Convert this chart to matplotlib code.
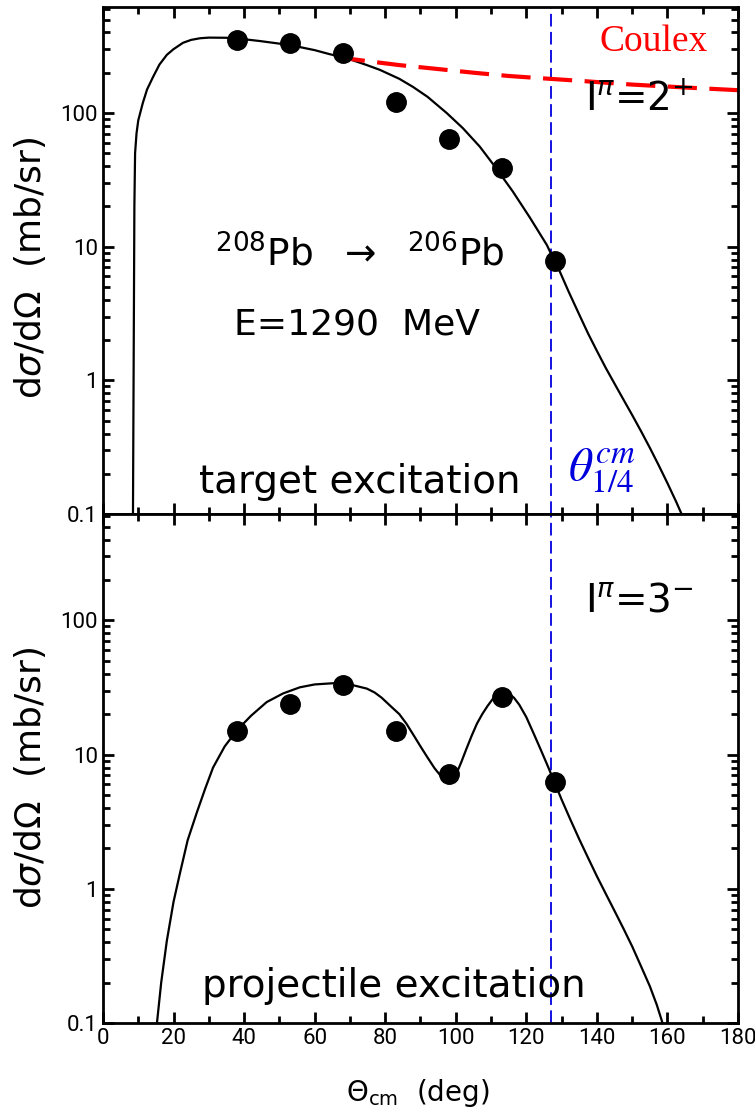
import matplotlib
matplotlib.use("Agg")
import matplotlib.pyplot as plt
from matplotlib.ticker import FixedLocator, FixedFormatter, LogLocator, MultipleLocator

# measured points (angles in deg, cross sections in mb/sr)
theta_exp = [38, 53, 68, 83, 98, 113, 128]
sig_2plus = [352, 333, 281, 121, 64, 39, 7.8]
sig_3minus = [15, 24, 33, 15, 7.2, 27, 6.2]

# calculated curve, target excitation 2+
theta_calc_2p = [8.5, 8.9, 9.1, 9.5, 10, 11.3, 12.5, 14.2, 16, 18.1, 20, 22.7, 25,
                 27.5, 30, 35, 40, 44.5, 50, 55.8, 60, 64.3, 67, 70, 74.8, 78.5,
                 84, 87.8, 92, 97.4, 102, 106.8, 111, 116.1, 121, 125.8, 127.5,
                 129.5, 132, 135, 137.5, 140, 142.5, 145, 147.5, 150, 152.5,
                 155, 157.5, 160, 162.5, 164]
sig_calc_2p = [0.1, 20, 50, 70, 88, 119, 150, 186, 230, 272, 300, 335, 352,
               362, 366, 365, 356, 345, 330, 311, 295, 275, 265, 252, 228, 210,
               180, 157, 132, 100, 77, 56, 40, 26, 16.5, 10.3, 8.3,
               6.5, 4.6, 3.1, 2.24, 1.66, 1.24, 0.944, 0.72, 0.55, 0.417,
               0.313, 0.232, 0.17, 0.123, 0.1]

# Coulomb excitation only
theta_coulex = [66, 75, 84, 95, 105, 115, 124, 135, 150, 165, 180]
sig_coulex = [262, 244, 228, 213, 200, 189, 182, 174, 163, 155, 148]

# calculated curve, projectile excitation 3-
theta_calc_3m = [15.3, 16.5, 18.1, 20, 21.8, 24, 26.6, 29, 31.2, 34.5, 38, 42,
                 46.4, 51, 55.8, 60, 65.2, 70, 74.8, 77, 79, 81.5, 84, 86, 88,
                 90, 92, 94, 96, 98, 99, 100, 101.5, 103, 104.5, 106, 107.5,
                 109, 110.5, 112, 113.5, 115, 116.5, 118, 120, 122, 124, 126,
                 128, 130, 132.5, 135, 137.5, 140, 142.5, 145, 147.5, 150,
                 152.5, 155, 157, 158.6]
sig_calc_3m = [0.1, 0.2, 0.41, 0.8, 1.3, 2.3, 3.7, 5.6, 8.0, 11.5, 15.2, 19.5,
               24.6, 28.5, 31.7, 33.3, 34, 33.3, 31, 29, 26.5, 23, 20, 17, 14,
               11.5, 9.5, 7.9, 6.8, 6.1, 6.3, 7.0, 8.7, 11, 13.8, 17, 20,
               23, 26, 28, 29, 28.5, 26.5, 23.5, 19, 14.5, 11, 8.3,
               6.2, 4.62, 3.27, 2.34, 1.70, 1.24, 0.92, 0.684, 0.507, 0.372,
               0.265, 0.188, 0.136, 0.1]

theta_quarter = 127

fig = plt.figure(figsize=(7.55, 11.14), dpi=100)
ax1 = fig.add_axes([0.1364, 0.5386, 0.8411, 0.4551])
ax2 = fig.add_axes([0.1364, 0.0817, 0.8411, 0.4569], sharex=ax1)

for ax in (ax1, ax2):
    ax.set_yscale("log")
    ax.set_ylim(0.1, 620)
    ax.set_xlim(0, 180)
    ax.xaxis.set_major_locator(MultipleLocator(20))
    ax.xaxis.set_minor_locator(MultipleLocator(10))
    ax.yaxis.set_major_locator(FixedLocator([0.1, 1, 10, 100]))
    ax.yaxis.set_major_formatter(FixedFormatter(["0.1", "1", "10", "100"]))
    ax.yaxis.set_minor_locator(LogLocator(base=10, subs=range(2, 10)))
    ax.tick_params(which="both", direction="in", top=True, right=True,
                   width=2, labelsize=16, labelfontfamily="Roboto")
    ax.tick_params(which="major", length=8)
    ax.tick_params(which="minor", length=5)
    for s in ax.spines.values():
        s.set_linewidth(2)
    ax.axvline(theta_quarter, color="#0000dd", lw=1.3, dashes=(7, 3))

ax1.tick_params(labelbottom=False)

ax1.plot(theta_calc_2p, sig_calc_2p, color="black", lw=1.6)
ax1.plot(theta_coulex, sig_coulex, color="red", lw=3, dashes=(7, 3))
ax1.plot(theta_exp, sig_2plus, "o", color="black", ms=14)

ax2.plot(theta_calc_3m, sig_calc_3m, color="black", lw=1.6)
ax2.plot(theta_exp, sig_3minus, "o", color="black", ms=14)

ax1.text(156, 340, "Coulex", color="red", fontsize=27,
         family="Liberation Serif", ha="center", va="center")
ax1.text(152, 125, r"I$^{\pi}$=2$^{+}$", fontsize=28, ha="center", va="center")
ax2.text(152, 141, r"I$^{\pi}$=3$^{-}$", fontsize=28, ha="center", va="center")
ax1.text(72.8, 8.7, r"$^{208}$Pb  $\rightarrow$  $^{206}$Pb", fontsize=27,
         ha="center", va="center")
ax1.text(72, 2.6, "E=1290  MeV", fontsize=26, ha="center", va="center")
ax1.text(72.8, 0.174, "target excitation", fontsize=28, ha="center", va="center")
ax2.text(82.5, 0.19, "projectile excitation", fontsize=28, ha="center", va="center")
ax1.text(141.4, 0.21, r"$\theta^{cm}_{1/4}$", color="#0000dd", fontsize=34,
         math_fontfamily="stix", ha="center", va="center")

fig.text(30 / 755, 1 - 268 / 1114, r"d$\sigma$/d$\Omega$  (mb/sr)", rotation=90,
         fontsize=26, ha="center", va="center")
fig.text(30 / 755, 1 - 778 / 1114, r"d$\sigma$/d$\Omega$  (mb/sr)", rotation=90,
         fontsize=26, ha="center", va="center")
fig.text(418 / 755, 1 - 1093 / 1114, r"$\Theta_{\rm cm}$  (deg)", fontsize=20,
         ha="center", va="center")

fig.savefig("out.png", dpi=100)
plt.close(fig)
